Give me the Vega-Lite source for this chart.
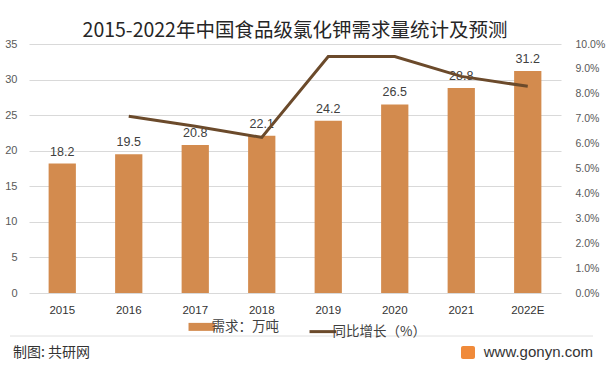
{
  "$schema": "https://vega.github.io/schema/vega-lite/v6.json",
  "autosize": {"type": "none"},
  "width": 532,
  "height": 249,
  "padding": {"left": 29, "top": 44, "right": 51, "bottom": 77},
  "background": "white",
  "title": {
    "text": "2015-2022年中国食品级氯化钾需求量统计及预测",
    "font": "Noto Sans CJK SC",
    "fontSize": 19.5,
    "fontWeight": "normal",
    "color": "#262626",
    "anchor": "middle",
    "offset": -3
  },
  "data": {
    "values": [
      {"year": "2015", "demand": 18.2, "growth": null},
      {"year": "2016", "demand": 19.5, "growth": 0.071},
      {"year": "2017", "demand": 20.8, "growth": 0.067},
      {"year": "2018", "demand": 22.1, "growth": 0.0625},
      {"year": "2019", "demand": 24.2, "growth": 0.095},
      {"year": "2020", "demand": 26.5, "growth": 0.095},
      {"year": "2021", "demand": 28.8, "growth": 0.087},
      {"year": "2022E", "demand": 31.2, "growth": 0.083}
    ]
  },
  "layer": [
    {
      "mark": {"type": "bar", "color": "#D38B4E"},
      "encoding": {
        "x": {
          "field": "year",
          "type": "ordinal",
          "sort": null,
          "scale": {"paddingInner": 0.59, "paddingOuter": 0.295},
          "axis": {
            "title": null,
            "labelAngle": 0,
            "ticks": false,
            "domain": false,
            "labelPadding": 11,
            "labelFont": "Liberation Sans",
            "labelFontSize": 11.5,
            "labelColor": "#333333"
          }
        },
        "y": {
          "field": "demand",
          "type": "quantitative",
          "scale": {"domain": [0, 35]},
          "axis": {
            "title": null,
            "values": [0, 5, 10, 15, 20, 25, 30, 35],
            "ticks": false,
            "domain": false,
            "labelPadding": 12,
            "labelFont": "Liberation Sans",
            "labelFontSize": 11,
            "labelColor": "#595959",
            "gridColor": "#D9D9D9",
            "gridWidth": 1
          }
        },
        "color": {
          "datum": "需求：万吨",
          "type": "nominal",
          "scale": {"domain": ["需求：万吨", "同比增长（%）"], "range": ["#D38B4E", "#6B4A2B"]},
          "legend": {
            "title": null,
            "orient": "none",
            "legendX": 166,
            "legendY": 276,
            "direction": "horizontal",
            "symbolType": "stroke",
            "symbolSize": 700,
            "symbolOpacity": 1,
            "labelFont": "Noto Sans CJK SC",
            "labelFontSize": 13.5,
            "labelColor": "#404040",
            "labelOffset": 3,
            "columnPadding": 24,
            "encode": {
              "symbols": {
                "update": {
                  "strokeWidth": {"signal": "datum.value === '需求：万吨' ? 8 : 3"},
                  "stroke": {"signal": "datum.value === '需求：万吨' ? '#D38B4E' : '#6B4A2B'"}
                }
              }
            }
          }
        }
      }
    },
    {
      "mark": {"type": "text", "dy": -12, "font": "Liberation Sans", "fontSize": 12.5, "color": "#404040"},
      "encoding": {
        "x": {"field": "year", "type": "ordinal", "sort": null},
        "y": {"field": "demand", "type": "quantitative", "scale": {"domain": [0, 35]}, "axis": null},
        "text": {"field": "demand", "type": "quantitative", "format": ".1f"}
      }
    },
    {
      "mark": {"type": "line", "strokeWidth": 3},
      "encoding": {
        "x": {"field": "year", "type": "ordinal", "sort": null},
        "y": {
          "field": "growth",
          "type": "quantitative",
          "scale": {"domain": [0, 0.1]},
          "axis": {
            "title": null,
            "orient": "right",
            "format": ".1%",
            "values": [0, 0.01, 0.02, 0.03, 0.04, 0.05, 0.06, 0.07, 0.08, 0.09, 0.1],
            "grid": false,
            "ticks": false,
            "domain": false,
            "labelPadding": 14,
            "labelFont": "Liberation Sans",
            "labelFontSize": 10.5,
            "labelColor": "#595959"
          }
        },
        "color": {"datum": "同比增长（%）", "type": "nominal"}
      }
    },
    {
      "mark": {"type": "rule", "stroke": "#E0E0E0", "strokeWidth": 1},
      "data": {"values": [{"k": 1}]},
      "encoding": {
        "x": {"value": -19},
        "x2": {"value": 564},
        "y": {"value": 292},
        "y2": {"value": 292}
      }
    },
    {
      "mark": {"type": "text", "align": "left", "baseline": "middle", "font": "Noto Sans CJK SC", "fontSize": 14, "color": "#333333"},
      "data": {"values": [{"t": "制图: 共研网"}]},
      "encoding": {
        "x": {"value": -16},
        "y": {"value": 309},
        "text": {"field": "t"}
      }
    },
    {
      "mark": {"type": "text", "align": "right", "baseline": "middle", "font": "Liberation Sans", "fontSize": 15, "color": "#333333"},
      "data": {"values": [{"t": "www.gonyn.com"}]},
      "encoding": {
        "x": {"value": 564},
        "y": {"value": 308},
        "text": {"field": "t"}
      }
    },
    {
      "mark": {"type": "rect", "fill": "#F08A3A", "cornerRadius": 2},
      "data": {"values": [{"k": 1}]},
      "encoding": {
        "x": {"value": 432},
        "x2": {"value": 446},
        "y": {"value": 302},
        "y2": {"value": 315}
      }
    }
  ],
  "resolve": {"scale": {"y": "independent"}},
  "config": {
    "view": {"stroke": null},
    "axis": {"gridColor": "#D9D9D9"}
  }
}
